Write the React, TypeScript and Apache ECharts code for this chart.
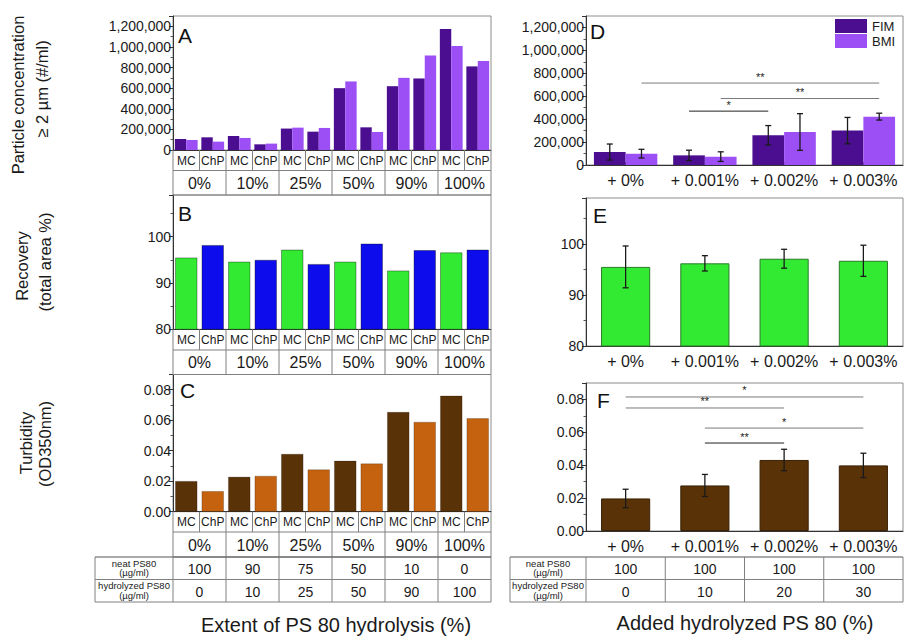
import React, { useEffect, useRef } from 'react';
import * as echarts from 'echarts';

// ---------------- data ----------------
const hydrolysisLevels = ['0%', '10%', '25%', '50%', '90%', '100%'];
const methods = ['MC', 'ChP'];
const subCategories = hydrolysisLevels.flatMap((l) => methods.map((m) => `${l} ${m}`));

const fimA = [107000, 123000, 136000, 55000, 208000, 178000, 600000, 220000, 619000, 694000, 1174000, 811000];
const bmiA = [97000, 81000, 117000, 62000, 217000, 214000, 665000, 175000, 700000, 918000, 1009000, 863000];
const recoveryB = [95.5, 98.2, 94.6, 95.0, 97.2, 94.1, 94.6, 98.5, 92.7, 97.1, 96.6, 97.2];
const turbidityC = [0.0201, 0.0135, 0.0229, 0.0235, 0.0379, 0.0277, 0.0334, 0.0316, 0.0654, 0.0589, 0.0761, 0.0613];
const neatPS80 = ['100', '90', '75', '50', '10', '0'];
const hydrolyzedPS80 = ['0', '10', '25', '50', '90', '100'];

const addedLevels = ['+ 0%', '+ 0.001%', '+ 0.002%', '+ 0.003%'];
const fimD = [113000, 84000, 259000, 300000];
const fimDErr = [70000, 45000, 85000, 115000];
const bmiD = [99000, 73000, 288000, 422000];
const bmiDErr = [38000, 42000, 160000, 30000];
const recoveryE = [95.5, 96.2, 97.1, 96.7];
const recoveryEErr = [4.1, 1.5, 1.85, 3.05];
const turbidityF = [0.0198, 0.0277, 0.0432, 0.0399];
const turbidityFErr = [0.0056, 0.0067, 0.0065, 0.0074];
const neatPS80F = ['100', '100', '100', '100'];
const hydrolyzedPS80F = ['0', '10', '20', '30'];

// significance brackets: [fromCategory, fromBarSide, toCategory, toBarSide, height]
const sigD = [
  [0, 1, 3, 1, 715000],
  [1, 1, 3, 1, 580000],
  [1, -1, 2, -1, 470000],
];
const sigDLabels = ['**', '**', '*'];
const sigF = [
  [0, 0, 3, 0, 0.0815],
  [0, 0, 2, 0, 0.0748],
  [1, 0, 3, 0, 0.0626],
  [1, 0, 2, 0, 0.0535],
];
const sigFLabels = ['*', '**', '*', '**'];

// ---------------- styles ----------------
const FONT = 'Liberation Sans, Arial, Helvetica, sans-serif';
const C_FIM = '#4b0e90';
const C_BMI = '#9d4ff6';
const C_GREEN = '#33ea33';
const C_BLUE = '#0c0ced';
const C_BROWN = '#5a3208';
const C_ORANGE = '#c4620f';
const TXT = '#1a1a1a';
const TABLE_LINE = '#808080';
const sigDColors = ['#7a7a7a', '#7a7a7a', '#222'];
const sigFColors = ['#7a7a7a', '#7a7a7a', '#7a7a7a', '#222'];

const LX = 173, LW = 318;
const RX = 586, RW = 317;
const grids = [
  { left: LX, top: 16, width: LW, height: 134 },
  { left: LX, top: 195, width: LW, height: 134.3 },
  { left: LX, top: 374.5, width: LW, height: 137.2 },
  { left: RX, top: 16, width: RW, height: 149 },
  { left: RX, top: 198, width: RW, height: 148 },
  { left: RX, top: 383, width: RW, height: 148 },
];

const hl = (x1: number, x2: number, y: number, c = TABLE_LINE) => ({
  type: 'line', silent: true, z: 50,
  shape: { x1, y1: y, x2, y2: y }, style: { stroke: c, lineWidth: 1 },
});
const vl = (x: number, y1: number, y2: number, c = TABLE_LINE) => ({
  type: 'line', silent: true, z: 50,
  shape: { x1: x, y1, x2: x, y2 }, style: { stroke: c, lineWidth: 1 },
});
const txt = (x: number, y: number, text: string, size: number, extra: any = {}) => ({
  type: 'text', silent: true, z: 60, x, y, ...extra,
  style: {
    text, fontSize: size, fontFamily: FONT, fill: TXT,
    align: 'center', verticalAlign: 'middle', textAlign: 'center', textVerticalAlign: 'middle',
  },
});

function leftTable(y0: number, h1: number, h2: number) {
  const els: any[] = [];
  const cw = LW / subCategories.length;
  const y1 = y0 + h1, y2 = y1 + h2;
  els.push(hl(LX, LX + LW, y1), hl(LX, LX + LW, y2));
  for (let i = 0; i <= subCategories.length; i++) {
    const x = LX + i * cw;
    els.push(vl(x, y0, i % 2 === 0 ? y2 : y1));
  }
  subCategories.forEach((_, i) => els.push(txt(LX + (i + 0.5) * cw, y0 + h1 / 2 + 0.5, methods[i % 2], 12)));
  hydrolysisLevels.forEach((l, g) => els.push(txt(LX + (g + 0.5) * 2 * cw, y1 + h2 / 2 + 0.5, l, 16)));
  return els;
}

function concTable(x0: number, xStart: number, width: number, neat: string[], hyd: string[]) {
  const els: any[] = [];
  const y0 = 557, y1 = 579.5, y2 = 602;
  const n = neat.length;
  const cw = width / n;
  els.push(hl(x0, xStart + width, y0, '#555'), hl(x0, xStart + width, y1), hl(x0, xStart + width, y2));
  els.push(vl(x0, y0, y2), vl(xStart, y0, y2));
  for (let i = 1; i <= n; i++) els.push(vl(xStart + i * cw, y0, y2));
  const lx = (x0 + xStart) / 2;
  els.push(txt(lx, y0 + 6, 'neat PS80', 9.5), txt(lx, y0 + 15.5, '(µg/ml)', 9.5));
  els.push(txt(lx, y1 + 5.5, 'hydrolyzed PS80', 9.5), txt(lx, y1 + 15.5, '(µg/ml)', 9.5));
  neat.forEach((v, i) => els.push(txt(xStart + (i + 0.5) * cw, (y0 + y1) / 2 + 1, v, 14)));
  hyd.forEach((v, i) => els.push(txt(xStart + (i + 0.5) * cw, (y1 + y2) / 2 + 1, v, 14)));
  return els;
}

function buildGraphics() {
  const els: any[] = [];
  els.push(...leftTable(150, 20.5, 24.5));
  els.push(...leftTable(329.3, 20.7, 24.5));
  els.push(...leftTable(511.7, 20.3, 25));
  els.push(...concTable(95, LX, LW, neatPS80, hydrolyzedPS80));
  els.push(...concTable(510, RX, RW, neatPS80F, hydrolyzedPS80F));
  // panel letters
  const letters: [string, number, number][] = [
    ['A', 178, 35], ['B', 178, 213], ['C', 180, 390], ['D', 590, 31], ['E', 593, 215], ['F', 597, 400],
  ];
  letters.forEach(([l, x, y]) =>
    els.push({ type: 'text', silent: true, z: 60, x, y, style: { text: l, fontSize: 21, fontFamily: FONT, fill: '#111', align: 'left', verticalAlign: 'middle', textAlign: 'left', textVerticalAlign: 'middle' } })
  );
  // y titles
  const rot = { rotation: Math.PI / 2 };
  els.push(txt(18, 95, 'Particle concentration', 16.5, rot));
  els.push(txt(42, 89, '≥ 2 µm (#/ml)', 16.5, rot));
  els.push(txt(22, 266, 'Recovery', 16.5, rot));
  els.push(txt(45, 262, '(total area %)', 16.5, rot));
  els.push(txt(26, 443, 'Turbidity', 16.5, rot));
  els.push(txt(45, 444, '(OD350nm)', 16.5, rot));
  // x titles
  els.push(txt(336, 625, 'Extent of PS 80 hydrolysis (%)', 20));
  els.push(txt(745, 623, 'Added hydrolyzed PS 80 (%)', 20));
  return els;
}

const fmtInt = (v: number) => v.toLocaleString('en-US');
const fmt2 = (v: number) => v.toFixed(2);

function yAxis(gridIndex: number, min: number, max: number, interval: number, formatter: (v: number) => string) {
  return {
    type: 'value', gridIndex, min, max, interval,
    splitLine: { show: false },
    axisLine: { show: true, lineStyle: { color: '#333', width: 1 } },
    axisTick: { show: true, length: 4, lineStyle: { color: '#333' } },
    minorTick: { show: true, splitNumber: 2, length: 2.5, lineStyle: { color: '#555' } },
    axisLabel: { fontSize: 14, color: TXT, margin: 2, formatter, showMaxLabel: false, fontFamily: FONT },
  };
}

function xAxisLeft(gridIndex: number) {
  return {
    type: 'category', gridIndex, data: subCategories,
    axisLabel: { show: false }, axisTick: { show: false },
    axisLine: { show: true, lineStyle: { color: '#333' } },
  };
}
function xAxisRight(gridIndex: number) {
  return {
    type: 'category', gridIndex, data: addedLevels,
    axisLabel: { fontSize: 16, color: TXT, margin: 7, fontFamily: FONT, interval: 0, hideOverlap: false },
    axisTick: { show: true, alignWithLabel: true, inside: true, length: 3, interval: 0, lineStyle: { color: '#333' } },
    axisLine: { show: true, lineStyle: { color: '#333' } },
  };
}

const errRender = (frac: number) => (params: any, api: any) => {
  const cat = api.value(0);
  const pLo = api.coord([cat, api.value(1)]);
  const pHi = api.coord([cat, api.value(2)]);
  const w = api.size([1, 0])[0];
  const x = pLo[0] + api.value(3) * w * frac;
  const cap = 3;
  const st = { stroke: '#1a1a1a', lineWidth: 1.3 };
  return {
    type: 'group',
    children: [
      { type: 'line', shape: { x1: x, y1: pLo[1], x2: x, y2: pHi[1] }, style: st },
      { type: 'line', shape: { x1: x - cap, y1: pLo[1], x2: x + cap, y2: pLo[1] }, style: st },
      { type: 'line', shape: { x1: x - cap, y1: pHi[1], x2: x + cap, y2: pHi[1] }, style: st },
    ],
  };
};

const sigRender = (labels: string[], colors: string[], frac: number) => (params: any, api: any) => {
  const i = params.dataIndex;
  const y = api.value(4);
  const p1 = api.coord([api.value(0), y]);
  const p2 = api.coord([api.value(2), y]);
  const w = api.size([1, 0])[0];
  const x1 = p1[0] + api.value(1) * w * frac;
  const x2 = p2[0] + api.value(3) * w * frac;
  return {
    type: 'group',
    children: [
      { type: 'line', shape: { x1, y1: p1[1], x2, y2: p1[1] }, style: { stroke: colors[i], lineWidth: 1 } },
      {
        type: 'text', x: (x1 + x2) / 2, y: p1[1] - 1,
        style: { text: labels[i], fontSize: 11, fontFamily: FONT, fill: '#222', align: 'center', verticalAlign: 'bottom', textAlign: 'center', textVerticalAlign: 'bottom' },
      },
    ],
  };
};

function buildOption() {
  const errD = [
    ...fimD.map((m, i) => [i, m - fimDErr[i], m + fimDErr[i], -1]),
    ...bmiD.map((m, i) => [i, m - bmiDErr[i], m + bmiDErr[i], 1]),
  ];
  const errE = recoveryE.map((m, i) => [i, m - recoveryEErr[i], m + recoveryEErr[i], 0]);
  const errF = turbidityF.map((m, i) => [i, m - turbidityFErr[i], m + turbidityFErr[i], 0]);

  return {
    animation: false,
    backgroundColor: '#fff',
    textStyle: { fontFamily: FONT, color: TXT },
    grid: grids.map((g) => ({ ...g, show: true, borderColor: '#8c8c8c', borderWidth: 1, backgroundColor: 'transparent', containLabel: false })),
    legend: {
      data: ['FIM', 'BMI'], orient: 'vertical', left: 835, top: 18.5,
      itemWidth: 32, itemHeight: 14, itemGap: 0, icon: 'rect', padding: 0,
      textStyle: { fontSize: 13, color: TXT, lineHeight: 15, fontFamily: FONT },
      selectedMode: false,
    },
    xAxis: [xAxisLeft(0), xAxisLeft(1), xAxisLeft(2), xAxisRight(3), xAxisRight(4), xAxisRight(5)],
    yAxis: [
      yAxis(0, 0, 1300000, 200000, fmtInt),
      yAxis(1, 80, 109, 10, (v) => String(v)),
      yAxis(2, 0, 0.09, 0.02, fmt2),
      yAxis(3, 0, 1300000, 200000, fmtInt),
      yAxis(4, 80, 109, 10, (v) => String(v)),
      yAxis(5, 0, 0.09, 0.02, fmt2),
    ],
    series: [
      { name: 'FIM', type: 'bar', xAxisIndex: 0, yAxisIndex: 0, data: fimA, barGap: '0%', barCategoryGap: '14%', itemStyle: { color: C_FIM } },
      { name: 'BMI', type: 'bar', xAxisIndex: 0, yAxisIndex: 0, data: bmiA, barGap: '0%', barCategoryGap: '14%', itemStyle: { color: C_BMI } },
      {
        name: 'Recovery', type: 'bar', xAxisIndex: 1, yAxisIndex: 1, barCategoryGap: '16%',
        data: recoveryB.map((v, i) => ({ value: v, itemStyle: { color: i % 2 === 0 ? C_GREEN : C_BLUE } })),
        itemStyle: { borderColor: 'rgba(0,0,0,0.45)', borderWidth: 0.8 },
      },
      {
        name: 'Turbidity', type: 'bar', xAxisIndex: 2, yAxisIndex: 2, barCategoryGap: '16%',
        data: turbidityC.map((v, i) => ({ value: v, itemStyle: { color: i % 2 === 0 ? C_BROWN : C_ORANGE } })),
        itemStyle: { borderColor: 'rgba(0,0,0,0.35)', borderWidth: 0.6 },
      },
      { name: 'FIM', type: 'bar', xAxisIndex: 3, yAxisIndex: 3, data: fimD, barGap: '0%', barCategoryGap: '20%', itemStyle: { color: C_FIM } },
      { name: 'BMI', type: 'bar', xAxisIndex: 3, yAxisIndex: 3, data: bmiD, barGap: '0%', barCategoryGap: '20%', itemStyle: { color: C_BMI } },
      { type: 'custom', xAxisIndex: 3, yAxisIndex: 3, data: errD, encode: { x: 0, y: [1, 2] }, renderItem: errRender(0.2), z: 5, clip: false },
      { type: 'custom', xAxisIndex: 3, yAxisIndex: 3, data: sigD, encode: { x: [0, 2], y: 4 }, renderItem: sigRender(sigDLabels, sigDColors, 0.2), z: 5, clip: false },
      {
        name: 'Recovery E', type: 'bar', xAxisIndex: 4, yAxisIndex: 4, data: recoveryE, barCategoryGap: '38%',
        itemStyle: { color: C_GREEN, borderColor: '#2a7a2a', borderWidth: 1 },
      },
      { type: 'custom', xAxisIndex: 4, yAxisIndex: 4, data: errE, encode: { x: 0, y: [1, 2] }, renderItem: errRender(0), z: 5, clip: false },
      {
        name: 'Turbidity F', type: 'bar', xAxisIndex: 5, yAxisIndex: 5, data: turbidityF, barCategoryGap: '38%',
        itemStyle: { color: C_BROWN, borderColor: '#3a2005', borderWidth: 1 },
      },
      { type: 'custom', xAxisIndex: 5, yAxisIndex: 5, data: errF, encode: { x: 0, y: [1, 2] }, renderItem: errRender(0), z: 5, clip: false },
      { type: 'custom', xAxisIndex: 5, yAxisIndex: 5, data: sigF, encode: { x: [0, 2], y: 4 }, renderItem: sigRender(sigFLabels, sigFColors, 0), z: 5, clip: false },
    ],
    graphic: { elements: buildGraphics() },
  };
}

export default function App() {
  const ref = useRef<HTMLDivElement>(null);
  useEffect(() => {
    if (!ref.current) return;
    const chart = echarts.init(ref.current, null, { renderer: 'svg' });
    chart.setOption(buildOption() as any);
    return () => chart.dispose();
  }, []);
  return (
    <div
      ref={ref}
      style={{ position: 'absolute', left: 0, top: 0, width: 905, height: 636, background: '#fff' }}
    />
  );
}
